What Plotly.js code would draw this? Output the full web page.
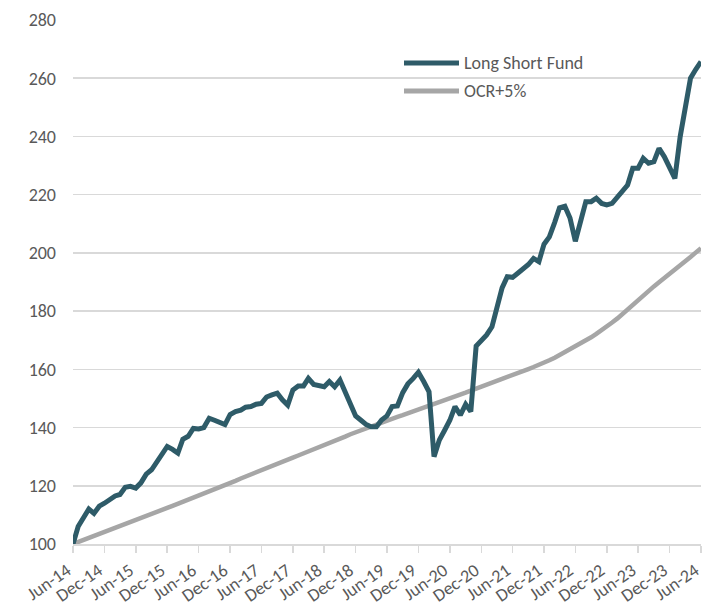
<!DOCTYPE html>
<html>
<head>
<meta charset="utf-8">
<script src="https://cdn.plot.ly/plotly-3.0.1.min.js"></script>
<style>
  html, body { margin: 0; padding: 0; background: #ffffff; }
  #chart { width: 704px; height: 608px; }
</style>
</head>
<body>
<div id="chart"></div>
<script>
// Monthly series, Jun-2014 .. Jun-2024 (121 months)
var startYear = 2014;
var startMonth = 6;

var seriesNames = ["Long Short Fund", "OCR+5%"];

var fundValues = [
  100.0, 106.0, 109.0, 112.0, 110.5, 113.0, 114.0, 115.5, 116.5, 117.0, 119.5, 119.8,
  119.2, 121.0, 124.0, 125.5, 128.0, 131.0, 133.5, 132.5, 131.2, 136.0, 137.0, 139.7,
  139.5, 140.0, 143.2, 142.5, 141.8, 141.0, 144.5, 145.5, 146.0, 147.0, 147.2, 148.0,
  148.3, 150.5, 151.2, 151.8, 149.5, 147.7, 152.9, 154.3, 154.3, 156.9, 154.8, 154.3,
  154.0, 155.8, 154.0, 156.3, 152.0, 147.2, 144.0, 142.5, 141.0, 140.3, 140.3, 142.6,
  144.0, 147.2, 147.4, 152.0, 155.0, 156.9, 159.0, 155.8, 152.3, 130.0, 135.7, 139.0,
  142.5, 147.2, 144.3, 148.0, 145.5, 168.0, 170.0, 171.8, 174.6, 181.0, 188.0, 191.8,
  191.6, 193.0, 194.5, 196.0, 198.1, 197.0, 203.0, 205.5, 210.5, 215.5, 216.0, 212.0,
  204.0, 211.0, 217.6, 217.6, 218.8, 217.0, 216.5, 217.0, 219.0, 221.0, 223.3, 229.1,
  229.1, 232.5, 230.8, 231.3, 235.9, 233.0, 229.0, 225.6, 240.0, 251.0, 260.0, 263.0,
  265.7
];

var ocrValues = [
  100.0, 100.7, 101.4, 102.0, 102.7, 103.4, 104.1, 104.8, 105.5, 106.1, 106.8, 107.5,
  108.2, 108.9, 109.6, 110.3, 111.0, 111.7, 112.4, 113.1, 113.8, 114.5, 115.3, 116.0,
  116.7, 117.4, 118.1, 118.9, 119.6, 120.3, 121.0, 121.7, 122.5, 123.2, 123.9, 124.7,
  125.4, 126.1, 126.8, 127.5, 128.3, 129.0, 129.7, 130.4, 131.1, 131.9, 132.6, 133.3,
  134.0, 134.7, 135.5, 136.2, 136.9, 137.7, 138.4, 139.1, 139.7, 140.4, 141.1, 141.8,
  142.4, 143.0, 143.7, 144.3, 144.9, 145.6, 146.2, 146.8, 147.5, 148.1, 148.8, 149.4,
  150.1, 150.7, 151.4, 152.0, 152.7, 153.3, 154.0, 154.7, 155.3, 156.0, 156.7, 157.3,
  158.0, 158.7, 159.4, 160.1, 160.8, 161.5, 162.3, 163.1, 164.0, 164.9, 165.8, 166.8,
  167.8, 168.8, 169.9, 171.0, 172.2, 173.4, 174.7, 176.1, 177.5, 179.0, 180.5, 182.1,
  183.7, 185.3, 186.9, 188.5, 189.9, 191.3, 192.8, 194.2, 195.7, 197.1, 198.6, 200.1,
  201.6
];

var tickDates = [
  "2014-06-01", "2014-12-01", "2015-06-01", "2015-12-01", "2016-06-01", "2016-12-01",
  "2017-06-01", "2017-12-01", "2018-06-01", "2018-12-01", "2019-06-01", "2019-12-01",
  "2020-06-01", "2020-12-01", "2021-06-01", "2021-12-01", "2022-06-01", "2022-12-01",
  "2023-06-01", "2023-12-01", "2024-06-01"
];
var tickLabels = [
  "Jun-14", "Dec-14", "Jun-15", "Dec-15", "Jun-16", "Dec-16", "Jun-17", "Dec-17",
  "Jun-18", "Dec-18", "Jun-19", "Dec-19", "Jun-20", "Dec-20", "Jun-21", "Dec-21",
  "Jun-22", "Dec-22", "Jun-23", "Dec-23", "Jun-24"
];

var yTicks = [100, 120, 140, 160, 180, 200, 220, 240, 260, 280];

// month categories as dates
var months = [];
for (var i = 0; i < fundValues.length; i++) {
  var idx = (startMonth - 1) + i;
  var y = startYear + Math.floor(idx / 12);
  var m = (idx % 12) + 1;
  months.push(y + "-" + (m < 10 ? "0" + m : m) + "-01");
}

var fundColor = "#2e5b68";
var ocrColor = "#a6a6a6";
var textColor = "#595959";
var fontFamily = "Carlito, Lato, 'Open Sans', sans-serif";

var traces = [
  {
    x: months, y: ocrValues, name: seriesNames[1], type: "scatter", mode: "lines",
    line: { color: ocrColor, width: 4.5 }, hoverinfo: "skip", showlegend: false
  },
  {
    x: months, y: fundValues, name: seriesNames[0], type: "scatter", mode: "lines",
    line: { color: fundColor, width: 5 }, hoverinfo: "skip", showlegend: false
  }
];

// plot area pixel geometry helpers for legend placement
var L = 73, R = 701, T = 20, B = 544;
function px(x) { return (x - L) / (R - L); }
function py(y) { return (B - y) / (B - T); }

var layout = {
  width: 704, height: 608,
  margin: { l: L, r: 704 - R, t: T, b: 608 - B },
  paper_bgcolor: "#ffffff", plot_bgcolor: "#ffffff",
  font: { family: fontFamily, color: textColor, size: 18 },
  showlegend: false,
  xaxis: {
    type: "date",
    range: [months[0], months[months.length - 1]],
    tickmode: "array", tickvals: tickDates, ticktext: tickLabels,
    tickangle: -35,
    ticklabelshift: -6,
    ticklabeloverflow: "allow",
    tickfont: { family: fontFamily, color: textColor, size: 18 },
    showgrid: false, zeroline: false,
    showline: true, linecolor: "#d9d9d9", linewidth: 2,
    ticks: "outside", ticklen: 7, tickcolor: "#d9d9d9", tickwidth: 1.5,
    fixedrange: true
  },
  yaxis: {
    range: [100, 280], tickmode: "array", tickvals: yTicks,
    tickfont: { family: fontFamily, color: textColor, size: 18 },
    showgrid: true, gridcolor: "#d9d9d9", gridwidth: 1.5,
    zeroline: false, showline: false, ticks: "",
    ticklabelstandoff: 16,
    fixedrange: true
  },
  shapes: [
    { type: "line", xref: "paper", yref: "paper", x0: px(404), x1: px(459), y0: py(63), y1: py(63),
      line: { color: fundColor, width: 5 } },
    { type: "line", xref: "paper", yref: "paper", x0: px(404), x1: px(459), y0: py(91), y1: py(91),
      line: { color: ocrColor, width: 5 } }
  ],
  annotations: [
    { xref: "paper", yref: "paper", x: px(462), y: py(63), xanchor: "left", yanchor: "middle",
      text: seriesNames[0], showarrow: false, font: { family: fontFamily, color: textColor, size: 18 } },
    { xref: "paper", yref: "paper", x: px(462), y: py(91), xanchor: "left", yanchor: "middle",
      text: seriesNames[1], showarrow: false, font: { family: fontFamily, color: textColor, size: 18 } }
  ]
};

Plotly.newPlot("chart", traces, layout, { displayModeBar: false, staticPlot: true });
</script>
</body>
</html>
